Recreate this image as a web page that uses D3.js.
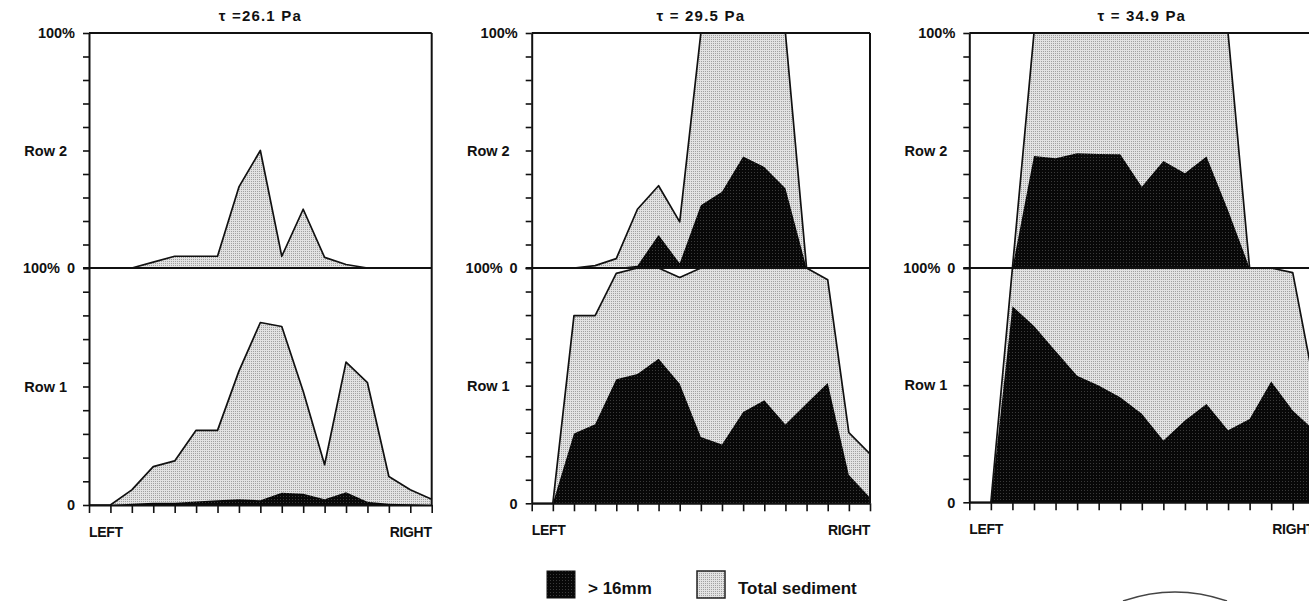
<!DOCTYPE html>
<html>
<head>
<meta charset="utf-8">
<script src="https://cdn.jsdelivr.net/npm/d3@7"></script>
<style>
body { margin: 0; background: #fff; }
text { font-family: "Liberation Sans", Arial, Helvetica, sans-serif; font-weight: bold; fill: #111; }
</style>
</head>
<body>
<svg id="chart" width="1309" height="601"></svg>
<script>
// stations across the flume, LEFT -> RIGHT
var stations = [0, 1, 2, 3, 4, 5, 6, 7, 8, 9, 10, 11, 12, 13, 14, 15, 16];
var titles = ["τ =26.1 Pa", "τ = 29.5 Pa", "τ = 34.9 Pa"];
var yTickValues = [0, 10, 20, 30, 40, 50, 60, 70, 80, 90, 100];

// % of sediment, one array per panel
var row2Total = [
    [0, 0, 0, 2.5, 5, 5, 5, 34.5, 50, 5, 25, 4.5, 1.5, 0, 0, 0, 0],
    [0, 0, 0, 1, 4, 25, 35, 19.6, 100, 100, 100, 100, 100, 0, 0, 0, 0],
    [0, 0, 0, 100, 100, 100, 100, 100, 100, 100, 100, 100, 100, 0, 0, 0, 0]
];
var row2Coarse = [
    [0, 0, 0, 0, 0, 0, 0, 0, 0, 0, 0, 0, 0, 0, 0, 0, 0],
    [0, 0, 0, 0, 0, 1, 14, 2, 26.7, 32.4, 47.4, 43, 33.9, 0, 0, 0, 0],
    [0, 0, 0, 47.7, 46.7, 48.8, 48.5, 48.4, 34.6, 45.5, 40.3, 47.4, 24.6, 0, 0, 0, 0]
];
var row1Total = [
    [0, 0, 6.4, 16.2, 18.6, 31.5, 31.5, 56.5, 77, 75.3, 48, 17, 60.3, 51.6, 12, 6.4, 2.4],
    [0, 0, 79.8, 79.8, 97.7, 100, 100, 96, 100, 100, 100, 100, 100, 100, 95, 30, 21],
    [0, 0, 100, 100, 100, 100, 100, 100, 100, 100, 100, 100, 100, 100, 100, 98, 50]
];
var row1Coarse = [
    [0, 0, 0.5, 1, 1, 1.5, 2, 2.4, 2, 5.2, 4.7, 2.4, 5.4, 1.4, 0.5, 0.3, 0],
    [0, 0, 29.7, 33.6, 52.7, 55, 61.4, 50.8, 28.2, 25, 38.8, 43.8, 33.5, 42.4, 51.1, 12, 2.5],
    [0, 0, 83.7, 75.2, 64.6, 54, 49.8, 44.8, 37.8, 26.4, 34.9, 42, 30.7, 35.6, 51.6, 39.2, 30.7]
];

var panelLeft = [89, 531.7, 969.3];
var panelWidth = [342.7, 338.3, 345];
var panelBottom = [505, 503.3, 502.3];
var plotTop = 33, plotMid = 268;

var svg = d3.select("#chart");
var defs = svg.append("defs");

var light = defs.append("pattern").attr("id", "stipple")
    .attr("width", 2).attr("height", 2).attr("patternUnits", "userSpaceOnUse");
light.append("rect").attr("width", 2).attr("height", 2).attr("fill", "#e2e2e2");
light.append("rect").attr("x", 1).attr("y", 1).attr("width", 1).attr("height", 1).attr("fill", "#a0a0a0");

var dark = defs.append("pattern").attr("id", "dark")
    .attr("width", 3).attr("height", 3).attr("patternUnits", "userSpaceOnUse");
dark.append("rect").attr("width", 3).attr("height", 3).attr("fill", "#080808");
dark.append("rect").attr("x", 1).attr("y", 1).attr("width", 1).attr("height", 1).attr("fill", "#3a3a3a");

titles.forEach(function(title, k) {
    var left = panelLeft[k], right = left + panelWidth[k], bottom = panelBottom[k];

    var x = d3.scaleLinear().domain([0, 16]).range([left, right]);
    var yUp = d3.scaleLinear().domain([0, 100]).range([plotMid, plotTop]);
    var yLow = d3.scaleLinear().domain([0, 100]).range([bottom, plotMid]);

    defs.append("clipPath").attr("id", "clip" + k)
        .append("rect").attr("x", left).attr("y", plotTop)
        .attr("width", right - left).attr("height", bottom - plotTop);

    var g = svg.append("g");
    var marks = g.append("g").attr("clip-path", "url(#clip" + k + ")");

    function drawRow(total, coarse, y) {
        var area = d3.area()
            .x(function(d, i) { return x(stations[i]); })
            .y0(y(0))
            .y1(function(d) { return y(Math.min(d, 100)); });
        var line = d3.line()
            .x(function(d, i) { return x(stations[i]); })
            .y(function(d) { return y(Math.min(d, 100)); });

        marks.append("path").datum(total)
            .attr("fill", "url(#stipple)")
            .attr("d", area);
        marks.append("path").datum(coarse)
            .attr("fill", "url(#dark)")
            .attr("d", area);
        marks.append("path").datum(total)
            .attr("fill", "none")
            .attr("stroke", "#111")
            .attr("stroke-width", 1.7)
            .attr("stroke-linejoin", "round")
            .attr("d", line);
    }
    drawRow(row1Total[k], row1Coarse[k], yLow);
    drawRow(row2Total[k], row2Coarse[k], yUp);

    // frame
    g.append("line").attr("x1", left).attr("x2", right).attr("y1", plotTop).attr("y2", plotTop)
        .attr("stroke", "#111").attr("stroke-width", 2);
    g.append("line").attr("x1", right).attr("x2", right).attr("y1", plotTop).attr("y2", bottom)
        .attr("stroke", "#111").attr("stroke-width", 2);
    g.append("line").attr("x1", left - 6).attr("x2", right).attr("y1", plotMid).attr("y2", plotMid)
        .attr("stroke", "#111").attr("stroke-width", 1.8);

    // axes
    var yAxisUp = d3.axisLeft(yUp).tickValues(yTickValues).tickSize(6).tickSizeOuter(0).tickFormat("");
    var yAxisLow = d3.axisLeft(yLow).tickValues(yTickValues).tickSize(6).tickSizeOuter(0).tickFormat("");
    var xAxis = d3.axisBottom(x).tickValues(stations).tickSize(8).tickSizeOuter(0).tickFormat("");

    [g.append("g").attr("transform", "translate(" + left + ",0)").call(yAxisUp),
     g.append("g").attr("transform", "translate(" + left + ",0)").call(yAxisLow),
     g.append("g").attr("transform", "translate(0," + bottom + ")").call(xAxis)
    ].forEach(function(a) {
        a.select(".domain").attr("stroke", "#111").attr("stroke-width", 2);
        a.selectAll(".tick line").attr("stroke", "#111").attr("stroke-width", 1.6);
    });

    // labels
    g.append("text").attr("x", (left + right) / 2).attr("y", 21)
        .attr("text-anchor", "middle").style("font-size", "15px").style("letter-spacing", "1.2px")
        .text(title);

    function label(txt, xx, yy) {
        g.append("text").attr("x", xx).attr("y", yy).attr("dy", "0.36em")
            .attr("text-anchor", "end").style("font-size", "14.5px")
            .text(txt);
    }
    label("100%", left - 14, yUp(100));
    label("Row 2", left - 22, yUp(50));
    label("100%", left - 29, plotMid);
    label("0", left - 14, plotMid);
    label("Row 1", left - 22, yLow(50));
    label("0", left - 14, yLow(0));

    g.append("text").attr("x", left).attr("y", bottom + 32)
        .style("font-size", "14px").style("letter-spacing", "-0.3px").text("LEFT");
    g.append("text").attr("x", right).attr("y", bottom + 32).attr("text-anchor", "end")
        .style("font-size", "14px").style("letter-spacing", "-0.3px").text("RIGHT");
});

// legend
var legend = svg.append("g");
legend.append("rect").attr("x", 547).attr("y", 571).attr("width", 28).attr("height", 27)
    .attr("fill", "url(#dark)").attr("stroke", "#111");
legend.append("text").attr("x", 588).attr("y", 594).style("font-size", "17px").text("> 16mm");
legend.append("rect").attr("x", 697).attr("y", 571).attr("width", 28).attr("height", 27)
    .attr("fill", "url(#stipple)").attr("stroke", "#222").attr("stroke-width", 1.5);
legend.append("text").attr("x", 738).attr("y", 594).style("font-size", "17px").text("Total sediment");

// edge of the next figure on the page
svg.append("path").attr("d", "M1123,601 Q1175,583 1227,601")
    .attr("fill", "none").attr("stroke", "#444").attr("stroke-width", 1.5);
</script>
</body>
</html>
